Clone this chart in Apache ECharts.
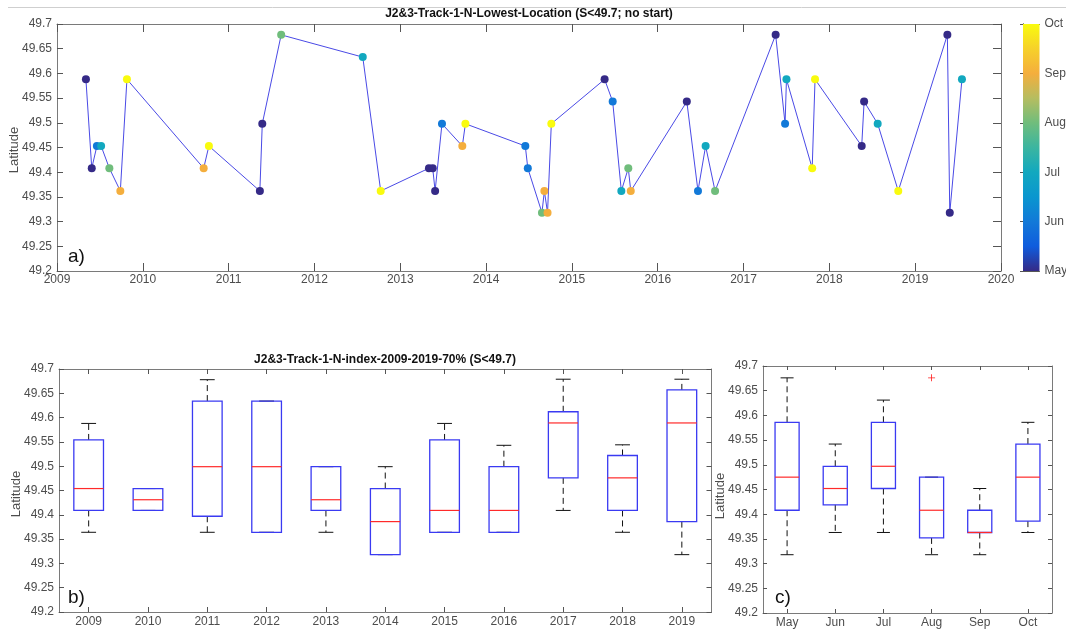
<!DOCTYPE html>
<html>
<head>
<meta charset="utf-8">
<script src="https://cdn.jsdelivr.net/npm/echarts@6/dist/echarts.min.js"></script>
<style>html,body{margin:0;padding:0;background:#fff;}#c{width:1066px;height:630px;}</style>
</head>
<body>
<div id="c"></div>
<script>
// ---- Panel a) data ----
const dates = [2009.337, 2009.405, 2009.465, 2009.514, 2009.61, 2009.738, 2009.815,
  2010.709, 2010.77,
  2011.364, 2011.392, 2011.612,
  2012.563, 2012.772,
  2013.334, 2013.378, 2013.406, 2013.486, 2013.723, 2013.759,
  2014.457, 2014.486, 2014.651, 2014.679, 2014.716, 2014.76,
  2015.381, 2015.475, 2015.576, 2015.657, 2015.686,
  2016.339, 2016.469, 2016.558, 2016.668,
  2017.374, 2017.484, 2017.50, 2017.80, 2017.833,
  2018.377, 2018.405, 2018.563, 2018.803,
  2019.375, 2019.403, 2019.545];
const lats = [49.588, 49.408, 49.453, 49.453, 49.408, 49.362, 49.588,
  49.408, 49.453,
  49.362, 49.498, 49.678,
  49.633, 49.362,
  49.408, 49.408, 49.362, 49.498, 49.453, 49.498,
  49.453, 49.408, 49.318, 49.362, 49.318, 49.498,
  49.588, 49.543, 49.362, 49.408, 49.362,
  49.543, 49.362, 49.453, 49.362,
  49.678, 49.498, 49.588, 49.408, 49.588,
  49.453, 49.543, 49.498, 49.362,
  49.678, 49.318, 49.588];
const months = [5,5,6,7,8,9,10, 9,10, 5,5,8, 7,10, 5,5,5,6,9,10, 6,6,8,9,9,10, 5,6,7,8,9, 5,6,7,8, 5,6,7,10,10, 5,5,7,10, 5,5,7];
const monthNames = {5:'May',6:'Jun',7:'Jul',8:'Aug',9:'Sep',10:'Oct'};

// ---- Panel b) data (per year) ----
const yearCats = ['2009','2010','2011','2012','2013','2014','2015','2016','2017','2018','2019'];
const yMin = [49.364, 49.409, 49.364, 49.364, 49.364, 49.318, 49.364, 49.364, 49.409, 49.364, 49.318];
const yQ1  = [49.409, 49.409, 49.397, 49.364, 49.409, 49.318, 49.364, 49.364, 49.476, 49.409, 49.386];
const yMed = [49.454, 49.431, 49.499, 49.499, 49.431, 49.386, 49.409, 49.409, 49.589, 49.476, 49.589];
const yQ3  = [49.554, 49.454, 49.634, 49.634, 49.499, 49.454, 49.554, 49.499, 49.612, 49.522, 49.657];
const yMax = [49.588, 49.454, 49.678, 49.634, 49.499, 49.499, 49.588, 49.543, 49.679, 49.544, 49.679];

// ---- Panel c) data (per month) ----
const monthCats = ['May','Jun','Jul','Aug','Sep','Oct'];
const mMin = [49.318, 49.363, 49.363, 49.318, 49.318, 49.363];
const mQ1  = [49.408, 49.419, 49.452, 49.352, 49.363, 49.386];
const mMed = [49.475, 49.452, 49.497, 49.408, 49.363, 49.475];
const mQ3  = [49.586, 49.497, 49.586, 49.475, 49.408, 49.542];
const mMax = [49.676, 49.542, 49.631, 49.475, 49.452, 49.586];
const mOutliers = [['Aug', 49.676]];

// ---- styling ----
const parula = ['#352a87','#0f5cdd','#1279d8','#0a96cf','#12a8bf','#3bb5a0','#70bd7c','#b6bd60','#f4ae3d','#f6d12a','#f9fb0e'];
const FONT = 'Liberation Sans, Arial, Helvetica, sans-serif';
const AXC = '#7a7a7a', LBC = '#4d4d4d';
const fmt = v => String(parseFloat(Number(v).toFixed(3)));

function latAxis(gi, pos, showLabel, tickLen) {
  return {
    type: 'value', gridIndex: gi, position: pos, min: 49.2, max: 49.7, interval: 0.05,
    axisLine: {show: true, lineStyle: {color: AXC, width: 1}},
    axisTick: {show: true, inside: true, length: tickLen, lineStyle: {color: '#555'}},
    axisLabel: {show: showLabel, color: LBC, fontSize: 12, fontFamily: FONT, margin: 5, formatter: fmt},
    splitLine: {show: false}
  };
}
function catAxis(gi, pos, cats, showLabel, tickLen) {
  return {
    type: 'category', gridIndex: gi, position: pos, data: cats, boundaryGap: true,
    axisLine: {show: true, lineStyle: {color: AXC, width: 1}},
    axisTick: {show: true, inside: true, alignWithLabel: true, length: tickLen, lineStyle: {color: '#555'}},
    axisLabel: {show: showLabel, color: LBC, fontSize: 12, fontFamily: FONT, margin: 4},
    splitLine: {show: false}
  };
}

function boxRender(boxRatio, capRatio) {
  return function (params, api) {
    const i = api.value(0);
    const band = api.size([1, 0])[0];
    const bw = band * boxRatio, cw = band * capRatio;
    const pMin = api.coord([i, api.value(1)]);
    const pQ1 = api.coord([i, api.value(2)]);
    const pMed = api.coord([i, api.value(3)]);
    const pQ3 = api.coord([i, api.value(4)]);
    const pMax = api.coord([i, api.value(5)]);
    const x = pMin[0];
    const dash = {stroke: '#111', lineWidth: 1, lineDash: [6, 4], fill: null};
    const solid = {stroke: '#111', lineWidth: 1, fill: null};
    return {
      type: 'group',
      children: [
        {type: 'line', shape: {x1: x, y1: pQ3[1], x2: x, y2: pMax[1]}, style: dash},
        {type: 'line', shape: {x1: x, y1: pQ1[1], x2: x, y2: pMin[1]}, style: dash},
        {type: 'line', shape: {x1: x - cw / 2, y1: pMax[1], x2: x + cw / 2, y2: pMax[1]}, style: solid},
        {type: 'line', shape: {x1: x - cw / 2, y1: pMin[1], x2: x + cw / 2, y2: pMin[1]}, style: solid},
        {type: 'rect', shape: {x: x - bw / 2, y: pQ3[1], width: bw, height: pQ1[1] - pQ3[1]},
          style: {stroke: '#3a3af2', lineWidth: 1.3, fill: null}},
        {type: 'line', shape: {x1: x - bw / 2, y1: pMed[1], x2: x + bw / 2, y2: pMed[1]},
          style: {stroke: '#ff2a2a', lineWidth: 1.2}}
      ]
    };
  };
}

const chart = echarts.init(document.getElementById('c'), null, {renderer: 'canvas'});
const lineData = dates.map((d, i) => [d, lats[i]]);
const scatData = dates.map((d, i) => [d, lats[i], months[i]]);
const yearRows = yearCats.map((c, i) => [i, yMin[i], yQ1[i], yMed[i], yQ3[i], yMax[i]]);
const monthRows = monthCats.map((c, i) => [i, mMin[i], mQ1[i], mMed[i], mQ3[i], mMax[i]]);

const gradStops = parula.map((c, i) => ({offset: 1 - i / (parula.length - 1), color: c}));
const G = {containLabel: false, outerBoundsMode: 'none'};
const nameStyle = {text: 'Latitude', fill: LBC, font: '13px ' + FONT, textAlign: 'center', textVerticalAlign: 'middle'};

const option = {
  backgroundColor: '#fff',
  animation: false,
  grid: [
    Object.assign({left: 57, top: 24, width: 944, height: 247}, G),
    Object.assign({left: 59, top: 369, width: 652.5, height: 243}, G),
    Object.assign({left: 763, top: 366, width: 289, height: 247}, G),
    Object.assign({left: 1023, top: 24, width: 16.5, height: 247}, G)
  ],
  xAxis: [
    {type: 'value', gridIndex: 0, position: 'bottom', min: 2009, max: 2020, interval: 1,
      axisLine: {show: true, lineStyle: {color: AXC}},
      axisTick: {inside: true, length: 8, lineStyle: {color: '#555'}},
      axisLabel: {color: LBC, fontSize: 12, fontFamily: FONT, margin: 3, formatter: v => String(v)},
      splitLine: {show: false}},
    {type: 'value', gridIndex: 0, position: 'top', min: 2009, max: 2020, interval: 1,
      axisLine: {show: true, lineStyle: {color: AXC}},
      axisTick: {inside: true, length: 8, lineStyle: {color: '#555'}},
      axisLabel: {show: false}, splitLine: {show: false}},
    catAxis(1, 'bottom', yearCats, true, 5),
    catAxis(1, 'top', yearCats, false, 5),
    catAxis(2, 'bottom', monthCats, true, 4),
    catAxis(2, 'top', monthCats, false, 4),
    {type: 'value', gridIndex: 3, position: 'bottom', min: 0, max: 1,
      axisLine: {show: true, lineStyle: {color: '#555'}}, axisTick: {show: false},
      axisLabel: {show: false}, splitLine: {show: false}},
    {type: 'value', gridIndex: 3, position: 'top', min: 0, max: 1,
      axisLine: {show: true, lineStyle: {color: '#555'}}, axisTick: {show: false},
      axisLabel: {show: false}, splitLine: {show: false}}
  ],
  yAxis: [
    latAxis(0, 'left', true, 6),
    latAxis(0, 'right', false, 8),
    latAxis(1, 'left', true, 5),
    latAxis(1, 'right', false, 5),
    latAxis(2, 'left', true, 4),
    latAxis(2, 'right', false, 4),
    {type: 'value', gridIndex: 3, position: 'left', min: 5, max: 10, interval: 1,
      axisLine: {show: true, lineStyle: {color: '#555'}},
      axisTick: {inside: true, length: 3, lineStyle: {color: '#555'}},
      axisLabel: {show: false}, splitLine: {show: false}},
    {type: 'value', gridIndex: 3, position: 'right', min: 5, max: 10, interval: 1,
      axisLine: {show: true, lineStyle: {color: '#555'}},
      axisTick: {inside: true, length: 3, lineStyle: {color: '#555'}},
      axisLabel: {color: LBC, fontSize: 12, fontFamily: FONT, margin: 5, formatter: v => monthNames[v] || ''},
      splitLine: {show: false}}
  ],
  visualMap: {
    type: 'continuous', show: false, min: 5, max: 10, dimension: 2, seriesIndex: 1,
    inRange: {color: parula}
  },
  series: [
    {type: 'line', xAxisIndex: 0, yAxisIndex: 0, data: lineData, showSymbol: false, symbol: 'none',
      lineStyle: {color: '#4a4ae6', width: 1}, z: 2},
    {type: 'scatter', xAxisIndex: 0, yAxisIndex: 0, data: scatData, symbolSize: 8, z: 3,
      itemStyle: {opacity: 1}},
    {type: 'custom', xAxisIndex: 2, yAxisIndex: 2, data: yearRows, renderItem: boxRender(0.5, 0.25),
      encode: {x: 0, y: [1, 2, 3, 4, 5]}},
    {type: 'custom', xAxisIndex: 4, yAxisIndex: 4, data: monthRows, renderItem: boxRender(0.5, 0.27),
      encode: {x: 0, y: [1, 2, 3, 4, 5]}},
    {type: 'scatter', xAxisIndex: 4, yAxisIndex: 4, data: mOutliers, symbol: 'path://M4.4,0h1.2v10h-1.2zM0,4.4h10v1.2h-10z',
      symbolSize: 7, itemStyle: {color: '#ff2020', opacity: 1}},
    {type: 'custom', xAxisIndex: 6, yAxisIndex: 6, data: [[0, 5, 1, 10]], z: 1,
      renderItem: function (params, api) {
        const p0 = api.coord([api.value(0), api.value(3)]);
        const p1 = api.coord([api.value(2), api.value(1)]);
        return {type: 'rect', shape: {x: p0[0], y: p0[1], width: p1[0] - p0[0], height: p1[1] - p0[1]},
          style: {fill: new echarts.graphic.LinearGradient(0, 0, 0, 1, gradStops)}};
      }}
  ],
  graphic: [
    {type: 'line', shape: {x1: 8, y1: 7.5, x2: 1066, y2: 7.5}, style: {stroke: '#cfcfcf', lineWidth: 1}},
    {type: 'text', x: 529, y: 14, style: {text: 'J2&3-Track-1-N-Lowest-Location (S<49.7; no start)', fill: '#111',
      font: 'bold 12px ' + FONT, textAlign: 'center', textVerticalAlign: 'middle'}},
    {type: 'text', x: 385, y: 360, style: {text: 'J2&3-Track-1-N-index-2009-2019-70% (S<49.7)', fill: '#111',
      font: 'bold 12px ' + FONT, textAlign: 'center', textVerticalAlign: 'middle'}},
    {type: 'text', x: 14, y: 150, rotation: Math.PI / 2, style: nameStyle},
    {type: 'text', x: 16.5, y: 494, rotation: Math.PI / 2, style: nameStyle},
    {type: 'text', x: 720, y: 496, rotation: Math.PI / 2, style: nameStyle},
    {type: 'text', x: 68, y: 257, style: {text: 'a)', fill: '#111', font: '19px ' + FONT, textVerticalAlign: 'middle'}},
    {type: 'text', x: 68, y: 598, style: {text: 'b)', fill: '#111', font: '19px ' + FONT, textVerticalAlign: 'middle'}},
    {type: 'text', x: 775, y: 598, style: {text: 'c)', fill: '#111', font: '19px ' + FONT, textVerticalAlign: 'middle'}}
  ]
};
chart.setOption(option);
</script>
</body>
</html>
